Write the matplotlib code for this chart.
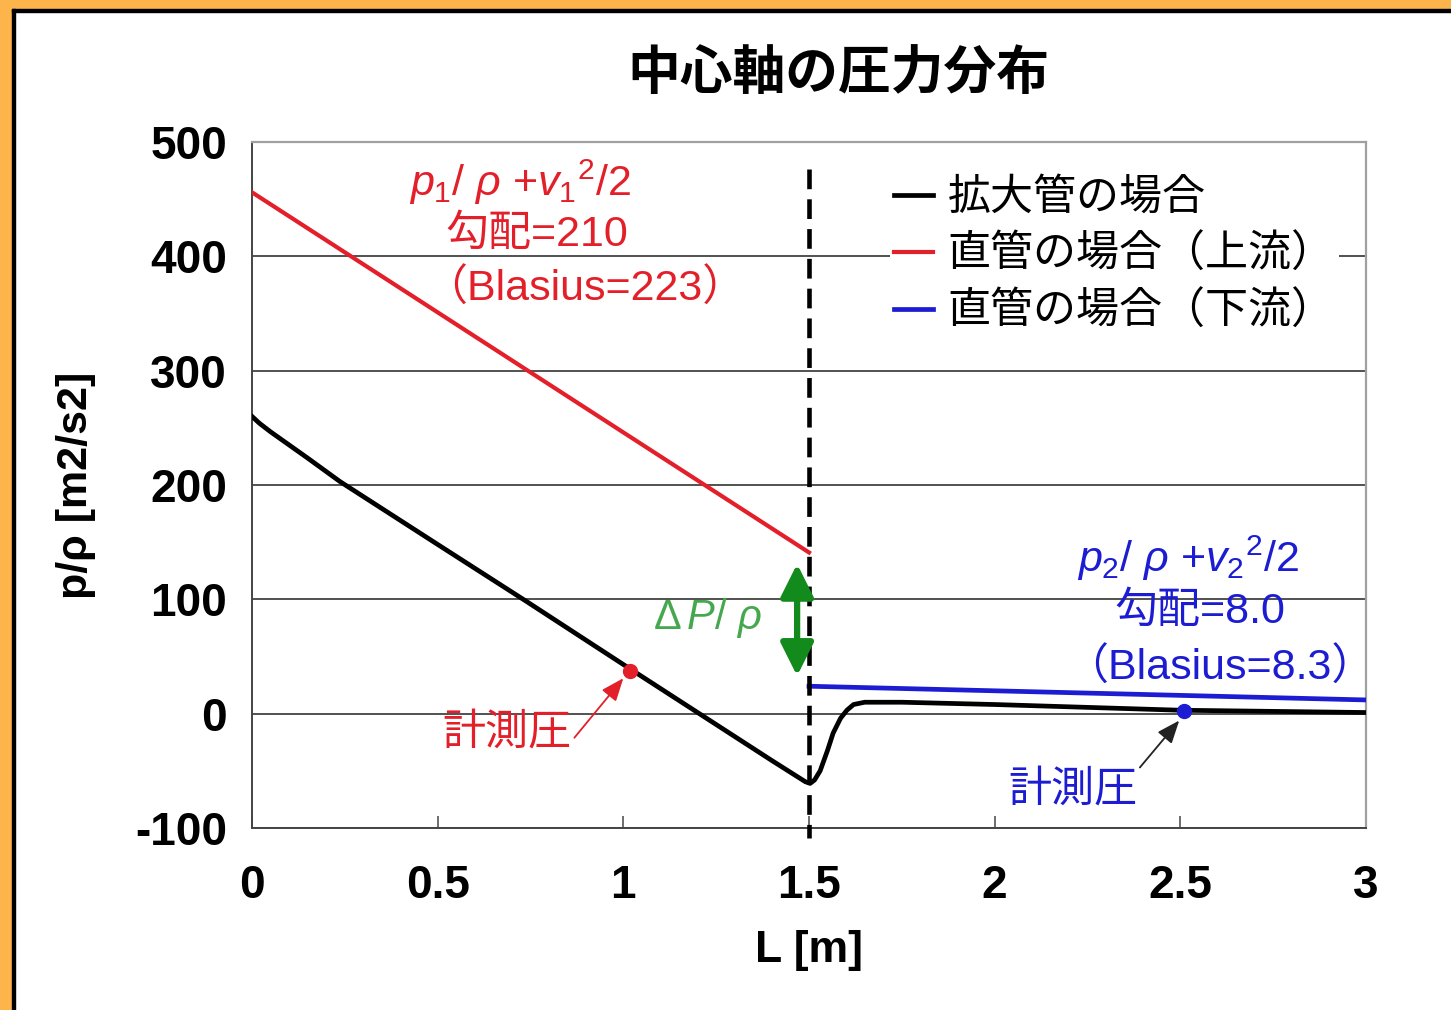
import matplotlib
matplotlib.use('Agg')
import matplotlib.pyplot as plt
from matplotlib.patches import Rectangle

plt.rcParams['font.family'] = ['Liberation Sans', 'Noto Sans CJK JP', 'DejaVu Sans']
plt.rcParams['axes.unicode_minus'] = False
plt.rcParams['mathtext.fontset'] = 'custom'
plt.rcParams['mathtext.rm'] = 'Liberation Sans'
plt.rcParams['mathtext.it'] = 'Liberation Sans:italic'

# 拡大管の場合（中心軸）
L_exp = [0, 0.02, 0.05, 0.1, 0.15, 0.237, 0.5, 0.74, 1.0, 1.2, 1.4, 1.49, 1.503, 1.515,
         1.53, 1.55, 1.565, 1.585, 1.602, 1.62, 1.65, 1.75, 2.0, 2.5, 3.0]
p_exp = [260, 254, 246.5, 235, 223.5, 203, 148, 98, 43, 1, -41, -59.5, -61, -58,
         -50, -32, -17, -4, 3, 8, 10, 10, 8, 3, 1]

# 直管の場合（上流）
L_up = [0, 1.5]
p_up = [456, 141]

# 直管の場合（下流）
L_down = [1.5, 3.0]
p_down = [24, 12]

# 計測圧
meas_up = (1.018, 37)
meas_down = (2.51, 2)

xticks = [0, 0.5, 1, 1.5, 2, 2.5, 3]
xticklabels = ['0', '0.5', '1', '1.5', '2', '2.5', '3']
yticks = [-100, 0, 100, 200, 300, 400, 500]

RED = '#e3202a'
BLUE = '#1c1cd2'
GREEN = '#138a1c'
LGREEN = '#46a84e'

W, H = 1451, 1010
fig = plt.figure(figsize=(W / 100, H / 100), dpi=100)
ax = fig.add_axes([252 / W, 1 - 828 / H, (1366 - 252) / W, (828 - 142) / H])

# 枠
fig.patches.append(Rectangle((0, 0), 12 / W, 1, transform=fig.transFigure, color='#fdb44b', zorder=0))
fig.patches.append(Rectangle((0, 1 - 9 / H), 1, 9 / H, transform=fig.transFigure, color='#fdb44b', zorder=0))
fig.patches.append(Rectangle((12 / W, 0), 3 / W, 1 - 9 / H, transform=fig.transFigure, color='black', zorder=0))
fig.patches.append(Rectangle((12 / W, 1 - 12 / H), 1, 3 / H, transform=fig.transFigure, color='black', zorder=0))

ax.plot(L_exp, p_exp, color='black', lw=3.4, label='拡大管の場合', zorder=4)
ax.plot(L_up, p_up, color=RED, lw=3.0, label='直管の場合（上流）', zorder=4)
ax.plot(L_down, p_down, color=BLUE, lw=3.4, label='直管の場合（下流）', zorder=4)

ax.plot(*meas_up, 'o', color=RED, ms=10, zorder=5)
ax.plot(*meas_down, 'o', color=BLUE, ms=10, zorder=5)

# 拡大部の位置
ax.plot([1.5, 1.5], [476, -109], color='black', lw=3.3, ls=(0, (4.3, 2.2)), clip_on=False, zorder=6)

# ΔP/ρ の矢印
ax.annotate('', xy=(1.468, 33), xytext=(1.468, 131),
            arrowprops=dict(arrowstyle='<|-|>,head_length=2.0,head_width=1.0',
                            color=GREEN, lw=4.5, shrinkA=0, shrinkB=0), zorder=6)
ax.text(1.226, 84, r'$\Delta\,\mathit{P/\ \rho}$', color=LGREEN, fontsize=30,
        ha='center', va='center')

fs = 31
ax.text(0.722, 465, r'$\mathit{p_1/\ \rho\ {+}v_1{}^2/2}$', color=RED, fontsize=fs, ha='center', va='center')
ax.text(0.768, 419, '勾配=210', color=RED, fontsize=fs, ha='center', va='center')
ax.text(0.897, 371, '（Blasius=223）', color=RED, fontsize=fs, ha='center', va='center')

ax.text(2.52, 136, r'$\mathit{p_2/\ \rho\ {+}v_2{}^2/2}$', color=BLUE, fontsize=fs, ha='center', va='center')
ax.text(2.553, 89, '勾配=8.0', color=BLUE, fontsize=fs, ha='center', va='center')
ax.text(2.607, 40, '（Blasius=8.3）', color=BLUE, fontsize=fs, ha='center', va='center')

ax.annotate('計測圧', xy=(1.0, 31), xytext=(0.687, -17), color=RED, fontsize=fs,
            ha='center', va='center',
            arrowprops=dict(arrowstyle='-|>,head_length=0.45,head_width=0.18', color=RED, lw=1.3,
                            shrinkA=0, shrinkB=0, relpos=(1.0, 0.3)))
ax.annotate('計測圧', xy=(2.497, -6), xytext=(2.211, -67), color=BLUE, fontsize=fs,
            ha='center', va='center',
            arrowprops=dict(arrowstyle='-|>,head_length=0.45,head_width=0.18', color='#222222', lw=1.3,
                            shrinkA=0, shrinkB=0, relpos=(1.0, 1.0)))

ax.set_xlim(0, 3)
ax.set_ylim(-100, 500)
ax.set_xticks(xticks)
ax.set_xticklabels(xticklabels)
ax.set_yticks(yticks)
ax.tick_params(axis='x', direction='in', length=9, width=1.2, color='#555555', pad=26,
               labelsize=33)
ax.tick_params(axis='y', length=0, pad=18, labelsize=33)
for lab in ax.get_xticklabels() + ax.get_yticklabels():
    lab.set_fontweight('bold')
ax.grid(axis='y', color='#222222', lw=1.1)
ax.set_axisbelow(True)
for s in ['top', 'right']:
    ax.spines[s].set_color('#a0a0a0')
    ax.spines[s].set_linewidth(1.6)
for s in ['left', 'bottom']:
    ax.spines[s].set_color('#444444')
    ax.spines[s].set_linewidth(1.4)

ax.set_xlabel('L [m]', fontsize=32, fontweight='bold', labelpad=16)
ax.set_ylabel('p/ρ [m2/s2]', fontsize=31, fontweight='bold', labelpad=28)
fig.text(838 / W, 1 - 73 / H, '中心軸の圧力分布', fontsize=38, fontweight='bold',
         ha='center', va='center', family=['Noto Sans CJK JP'])

leg = ax.legend(loc='upper left', bbox_to_anchor=(868 / W, 1 - 150 / H),
                bbox_transform=fig.transFigure, frameon=True, fancybox=False,
                edgecolor='none', facecolor='white', framealpha=1,
                prop={'family': ['Noto Sans CJK JP'], 'size': 31},
                handlelength=0.9, handletextpad=0.35, labelspacing=0.3, borderpad=0.1)
leg.set_zorder(5)

fig.savefig('out.png', dpi=100)
